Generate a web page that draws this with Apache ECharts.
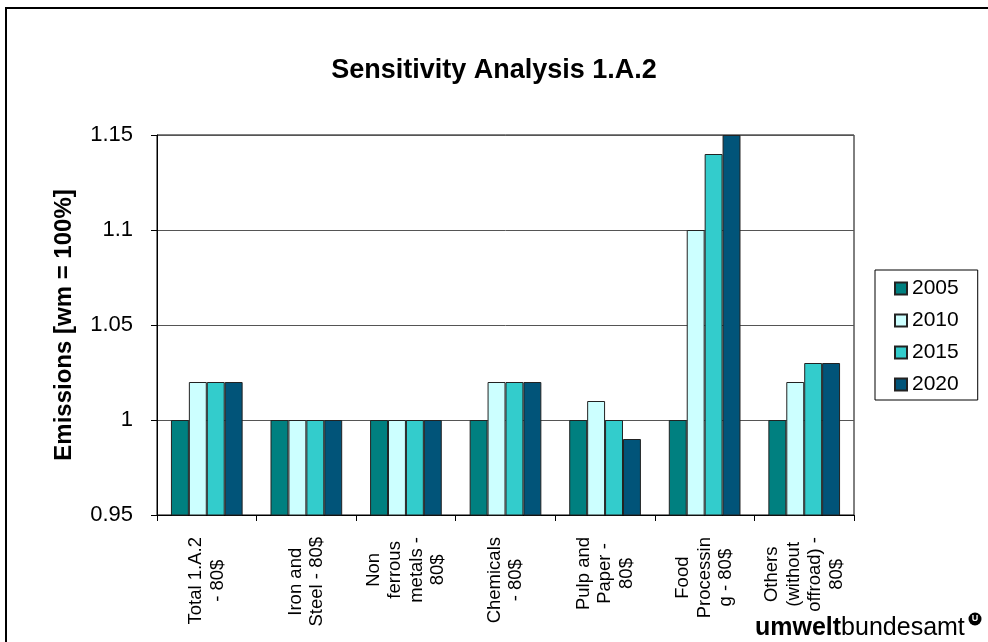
<!DOCTYPE html>
<html>
<head>
<meta charset="utf-8">
<style>
  html, body { margin: 0; padding: 0; background: #fff; }
  #chart { width: 988px; height: 642px; }
</style>
<script src="https://cdn.jsdelivr.net/npm/echarts@6/dist/echarts.min.js"></script>
</head>
<body>
<div id="chart"></div>
<script>
// Sector labels (line breaks as printed under the axis)
const categories = [
  'Total 1.A.2\n- 80$',
  'Iron and\nSteel - 80$',
  'Non\nferrous\nmetals -\n80$',
  'Chemicals\n- 80$',
  'Pulp and\nPaper -\n80$',
  'Food\nProcessin\ng - 80$',
  'Others\n(without\noffroad) -\n80$'
];

// Emissions relative to the "with measures" scenario (wm = 1)
const y2005 = [1.00, 1.00, 1.00, 1.00, 1.00, 1.00, 1.00];
const y2010 = [1.02, 1.00, 1.00, 1.02, 1.01, 1.10, 1.02];
const y2015 = [1.02, 1.00, 1.00, 1.02, 1.00, 1.14, 1.03];
const y2020 = [1.02, 1.00, 1.00, 1.02, 0.99, 1.15, 1.03];

const yearNames = ['2005', '2010', '2015', '2020'];
const yearValues = [y2005, y2010, y2015, y2020];
const yearColors = ['#008080', '#CCFFFF', '#33CCCC', '#015479'];

const FONT = '"Liberation Sans", Arial, sans-serif';

const chart = echarts.init(document.getElementById('chart'), null, { renderer: 'canvas' });

chart.setOption({
  backgroundColor: '#ffffff',
  animation: false,
  title: {
    text: 'Sensitivity Analysis 1.A.2',
    left: 'center',
    top: 52,
    textStyle: { fontFamily: FONT, fontSize: 27, fontWeight: 'bold', color: '#000' }
  },
  legend: {
    orient: 'vertical',
    left: 875,
    top: 270,
    padding: [8, 19, 5, 19],
    itemWidth: 12,
    itemHeight: 12,
    itemGap: 11,
    borderColor: '#000',
    borderWidth: 1,
    icon: 'rect',
    textStyle: { fontFamily: FONT, fontSize: 21, lineHeight: 21, color: '#000' },
    data: yearNames
  },
  grid: {
    left: 157,
    right: 134,
    top: 135,
    bottom: 127,
    show: true,
    borderColor: '#000',
    borderWidth: 1,
    backgroundColor: 'transparent'
  },
  xAxis: {
    type: 'category',
    data: categories,
    axisLine: { lineStyle: { color: '#000', width: 1 } },
    axisTick: { show: true, alignWithLabel: false, length: 6, lineStyle: { color: '#000' } },
    axisLabel: {
      interval: 0,
      rotate: 90,
      margin: 22,
      color: '#000',
      fontFamily: FONT,
      fontSize: 18.5,
      formatter: function (v) {
        return v.split('\n').map(function (l) { return '{c|' + l + '}'; }).join('\n');
      },
      rich: {
        c: { align: 'center', fontFamily: FONT, fontSize: 18.5, lineHeight: 21.5, color: '#000' }
      }
    }
  },
  yAxis: {
    type: 'value',
    min: 0.95,
    max: 1.15,
    interval: 0.05,
    name: 'Emissions [wm = 100%]',
    nameLocation: 'middle',
    nameGap: 81,
    nameTextStyle: { fontFamily: FONT, fontSize: 24, fontWeight: 'bold', color: '#000' },
    axisLine: { show: true, lineStyle: { color: '#000', width: 1 } },
    axisTick: { show: true, length: 6, lineStyle: { color: '#000' } },
    axisLabel: {
      margin: 24,
      color: '#000',
      fontFamily: FONT,
      fontSize: 22,
      formatter: function (v) { return String(Math.round(v * 100) / 100); }
    },
    splitLine: { show: true, lineStyle: { color: '#555', width: 1 } }
  },
  series: yearNames.map(function (name, i) {
    return {
      name: name,
      type: 'bar',
      data: yearValues[i],
      barGap: '0%',
      barCategoryGap: '28%',
      itemStyle: { color: yearColors[i], borderColor: '#222', borderWidth: 1 }
    };
  }),
  graphic: [
    {
      // outer frame of the figure
      type: 'rect',
      silent: true,
      z: 100,
      shape: { x: 6, y: 8, width: 1100, height: 1000 },
      style: { fill: 'none', stroke: '#000', lineWidth: 2 }
    },
    {
      type: 'text',
      silent: true,
      z: 100,
      x: 755,
      y: 616,
      style: {
        text: '{b|umwelt}{r|bundesamt}',
        verticalAlign: 'top',
        rich: {
          b: { fontFamily: FONT, fontSize: 25, fontWeight: 'bold', fill: '#000', lineHeight: 25 },
          r: { fontFamily: FONT, fontSize: 25, fill: '#000', lineHeight: 25 }
        }
      }
    },
    {
      type: 'circle',
      silent: true,
      z: 100,
      shape: { cx: 975, cy: 619, r: 6.5 },
      style: { fill: '#000' }
    },
    {
      type: 'text',
      silent: true,
      z: 101,
      x: 975,
      y: 619,
      style: {
        text: 'U',
        align: 'center',
        verticalAlign: 'middle',
        fontFamily: FONT,
        fontSize: 9,
        fontWeight: 'bold',
        fill: '#fff'
      }
    }
  ]
});
</script>
</body>
</html>
